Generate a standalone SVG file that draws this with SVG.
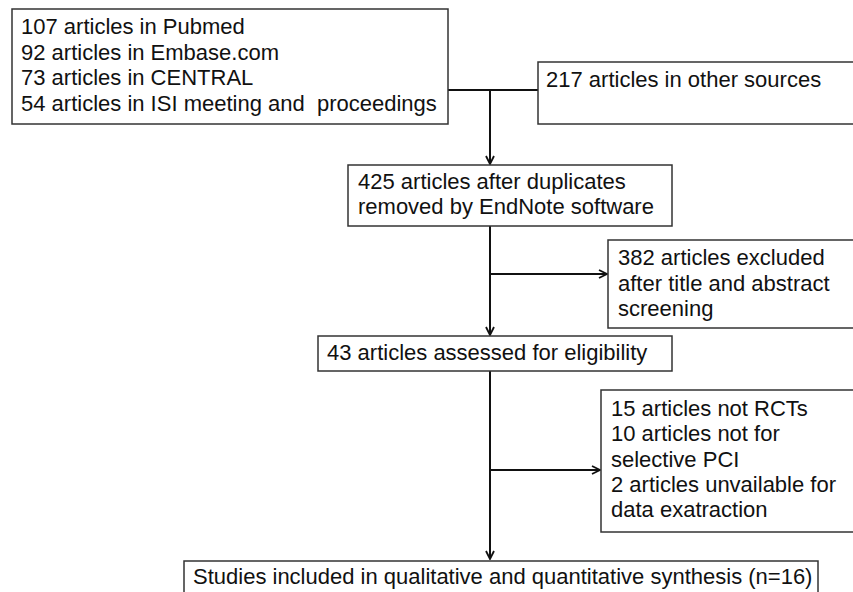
<svg xmlns="http://www.w3.org/2000/svg" width="853" height="592" viewBox="0 0 853 592">
<style>
.box{fill:#fff;stroke:#333;stroke-width:1.5}
.t{font-family:"Liberation Sans",Arial,sans-serif;font-size:22px;fill:#111}
.c{fill:none;stroke:#111;stroke-width:2}
</style>
<defs>
<marker id="ah" viewBox="0 0 10 10" refX="9" refY="5" markerWidth="10" markerHeight="10" markerUnits="userSpaceOnUse" orient="auto">
<path d="M1,1 L9,5 L1,9" fill="none" stroke="#111" stroke-width="1.8"/>
</marker>
</defs>
<rect width="853" height="592" fill="#fff"/>
<g id="connectors">
<line class="c" x1="448" y1="90" x2="538" y2="90"/>
<line class="c" x1="490" y1="90" x2="490" y2="164" marker-end="url(#ah)"/>
<line class="c" x1="490" y1="226" x2="490" y2="335" marker-end="url(#ah)"/>
<line class="c" x1="490" y1="274" x2="607" y2="274" marker-end="url(#ah)"/>
<line class="c" x1="490" y1="371" x2="490" y2="559" marker-end="url(#ah)"/>
<line class="c" x1="490" y1="470" x2="600" y2="470" marker-end="url(#ah)"/>
</g>
<g id="sources">
<rect class="box" x="12" y="9" width="436" height="115"/>
<text class="t" x="21" y="34">107 articles in Pubmed</text>
<text class="t" x="21" y="60">92 articles in Embase.com</text>
<text class="t" x="21" y="85">73 articles in CENTRAL</text>
<text class="t" x="21" y="111" xml:space="preserve">54 articles in ISI meeting and  proceedings</text>
</g>
<g id="other">
<rect class="box" x="538" y="62" width="330" height="62"/>
<text class="t" x="546" y="87">217 articles in other sources</text>
</g>
<g id="dedup">
<rect class="box" x="348" y="165" width="324" height="61"/>
<text class="t" x="358" y="189">425 articles after duplicates</text>
<text class="t" x="358" y="214">removed by EndNote software</text>
</g>
<g id="excluded1">
<rect class="box" x="608" y="240" width="260" height="88"/>
<text class="t" x="618" y="265">382 articles excluded</text>
<text class="t" x="618" y="291">after title and abstract</text>
<text class="t" x="618" y="316">screening</text>
</g>
<g id="eligibility">
<rect class="box" x="318" y="336" width="354" height="35"/>
<text class="t" x="327" y="360">43 articles assessed for eligibility</text>
</g>
<g id="excluded2">
<rect class="box" x="601" y="390" width="267" height="142"/>
<text class="t" x="611" y="416">15 articles not RCTs</text>
<text class="t" x="611" y="441">10 articles not for</text>
<text class="t" x="611" y="467">selective PCI</text>
<text class="t" x="611" y="492">2 articles unvailable for</text>
<text class="t" x="611" y="517">data exatraction</text>
</g>
<g id="included">
<rect class="box" x="184" y="561" width="634" height="40"/>
<text class="t" x="193" y="584">Studies included in qualitative and quantitative synthesis (n=16)</text>
</g>
</svg>
